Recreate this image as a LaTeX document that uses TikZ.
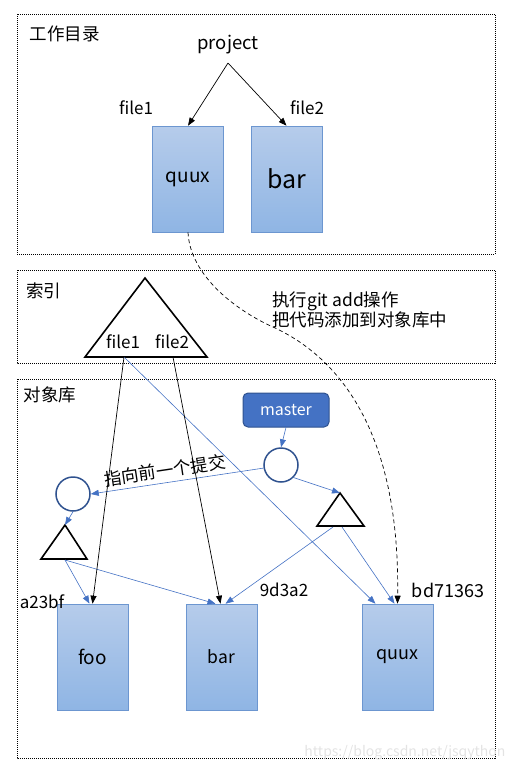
\documentclass[tikz,border=0pt]{standalone}
\usepackage{fontspec}
\setmainfont{Noto Sans CJK SC}
\usetikzlibrary{arrows.meta}
\definecolor{boxtop}{RGB}{182,204,235}
\definecolor{boxbot}{RGB}{143,181,228}
\definecolor{boxborder}{RGB}{108,150,208}
\definecolor{arrowblue}{RGB}{68,114,196}
\definecolor{circblue}{RGB}{47,82,143}
\definecolor{masterfill}{RGB}{68,114,196}
\definecolor{masterdraw}{RGB}{47,82,143}
\begin{document}
\begin{tikzpicture}[x=1pt,y=-1pt,
  panel/.style={draw, dash pattern=on 1pt off 1pt, line width=0.6pt},
  filebox/.style={draw=boxborder, top color=boxtop, bottom color=boxbot, minimum width=71pt, minimum height=106pt, inner sep=0pt, line width=0.6pt},
  blk/.style={draw=black, -{Triangle[length=8pt,width=6pt]}, line width=0.7pt},
  blu/.style={draw=arrowblue, -{Triangle[length=8pt,width=6pt]}, line width=0.6pt},
  tri/.style={draw, line width=1.6pt, line join=miter},
  commit/.style={circle, draw=circblue, line width=1.5pt, minimum size=34pt, inner sep=0pt},
  lbl/.style={font=\fontsize{17}{19}\selectfont, inner sep=0pt},
  cjk/.style={font=\fontsize{17.5}{20}\selectfont, inner sep=0pt},
  masterbox/.style={rounded corners=5pt, fill=masterfill, draw=masterdraw, line width=1pt, text=white, minimum width=86pt, minimum height=34pt, font=\fontsize{16}{18}\selectfont}]
\useasboundingbox (0,0) rectangle (513,772);

% panels
\draw[panel] (17,14) rectangle (495,254);
\draw[panel] (17,270) rectangle (495,363);
\draw[panel] (17,379) rectangle (495,758);

% working directory
\node[cjk] (wd) at (65,34) {工作目录};
\node[lbl, font=\fontsize{18.5}{20}\selectfont] (proj) at (228,45) {project};
\coordinate (projtip) at (228,63);
\node[filebox, font=\fontsize{19}{21}\selectfont] (wq) at (188,179) {quux};
\node[filebox, font=\fontsize{25}{27}\selectfont] (wb) at (286.5,179) {bar};
\node[lbl] (wf1) at (136,108) {file1};
\node[lbl] (wf2) at (307,108) {file2};
\draw[blk] (projtip) -- (wq.north);
\draw[blk] (projtip) -- (wb.north);

% index
\node[cjk] (idx) at (44,291) {索引};
\coordinate (ia) at (145,278);
\coordinate (il) at (85,357);
\coordinate (ir) at (207,357);
\draw[tri] (ia) -- (il) -- (ir) -- cycle;
\node[lbl] (if1) at (123,342) {file1};
\node[lbl] (if2) at (172,342) {file2};
\coordinate (i1) at (124,357);
\coordinate (i2) at (173,357);
\node[cjk, align=left, anchor=west] (note) at (272,310) {执行git add操作\\把代码添加到对象库中};

% object store
\node[cjk] (os) at (50,395) {对象库};
\node[masterbox] (m) at (286,410) {master};
\node[commit] (c1) at (281,465) {};
\node[commit] (c2) at (73,494) {};
\coordinate (t2a) at (340,493);
\coordinate (t2l) at (317,526);
\coordinate (t2r) at (364,526);
\draw[tri] (t2a) -- (t2l) -- (t2r) -- cycle;
\coordinate (t1a) at (65,525);
\coordinate (t1l) at (41,559);
\coordinate (t1r) at (87,559);
\draw[tri] (t1a) -- (t1l) -- (t1r) -- cycle;
\coordinate (t1b) at (65,560);
\coordinate (t2b1) at (333,527);
\coordinate (t2b2) at (342,527);

\node[filebox, font=\fontsize{19}{21}\selectfont] (ofoo) at (92.5,657) {\raisebox{-6pt}{foo}};
\node[filebox, font=\fontsize{17.5}{19}\selectfont] (obar) at (221.5,657) {\raisebox{-5pt}{bar}};
\node[filebox, font=\fontsize{18}{20}\selectfont] (oquux) at (397.5,657) {quux};
\node[lbl] (h1) at (42,602) {a23bf};
\node[lbl] (h2) at (284,590) {9d3a2};
\node[lbl, font=\fontsize{18}{20}\selectfont] (h3) at (448,590) {bd71363};

% blue connectors
\draw[blu] (m.south) -- (c1.north);
\draw[blu] (c1.190) -- node[pos=0.56, sloped, above=4pt, cjk, text=black] {指向前一个提交} (c2.east);
\draw[blu] (c1.-45) -- (t2a);
\draw[blu] (c2.south) -- (t1a);
\draw[blu] (t1b) -- ([xshift=-3pt]ofoo.north);
\draw[blu] (t1b) -- ([xshift=-6pt]obar.north);
\draw[blu] (t2b1) -- ([xshift=4pt]obar.north);
\draw[blu] (t2b2) -- ([xshift=-3pt]oquux.north);
\draw[blu] (i1) -- ([xshift=-22pt]oquux.north);

% black connectors from index
\draw[blk] (i1) -- (ofoo.north);
\draw[blk] (i2) -- ([xshift=-1pt]obar.north);

% dashed git add curve
\draw[draw=black, -{Triangle[length=8pt,width=6pt]}, line width=0.7pt, dash pattern=on 4pt off 3pt]
  (wq.south) .. controls (190,275) and (235,310) .. (273,327)
  .. controls (345,360) and (400,440) .. (oquux.north);

% watermark
\node[font=\fontsize{14}{16}\selectfont, text=gray!22, inner sep=0pt] (wm) at (405,753) {https://blog.csdn.net/jsqython};
\end{tikzpicture}
\end{document}
